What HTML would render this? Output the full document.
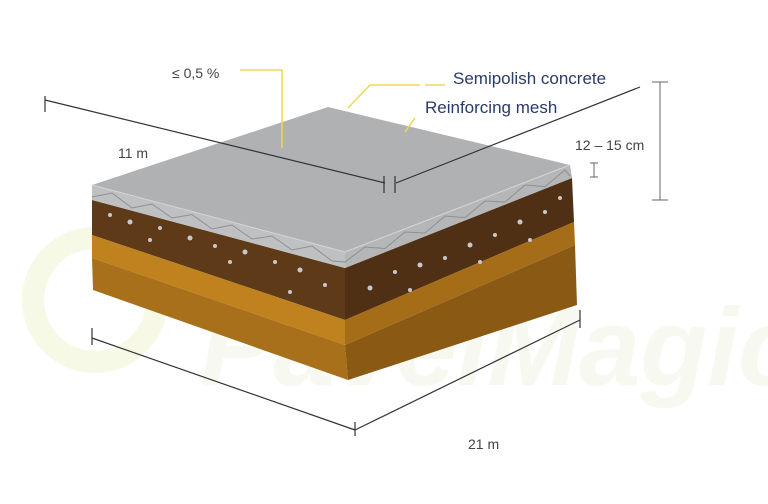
<!DOCTYPE html>
<html><head><style>html,body{margin:0;padding:0;background:#fff}svg{display:block}</style></head><body>
<svg width="768" height="504" viewBox="0 0 768 504" xmlns="http://www.w3.org/2000/svg" font-family="Liberation Sans, sans-serif">
<rect width="768" height="504" fill="#fff"/>
<!-- watermark -->
<g opacity="0.3">
<circle cx="95" cy="300" r="62" fill="none" stroke="#e6ecb0" stroke-width="22"/>
<text x="200" y="385" font-size="110" font-style="italic" font-weight="bold" fill="#e8ecd0">PavelMagic</text>
</g>
<!-- left side face layers -->
<polygon points="92,200 345,268 345,320 92,235" fill="#5e3a18"/>
<polygon points="92,235 345,320 345,345 92,258" fill="#c0821e"/>
<polygon points="92,258 345,345 348,380 93,290" fill="#a8701a"/>
<!-- right side face layers -->
<polygon points="345,268 572,178 574,222 345,320" fill="#4f3014"/>
<polygon points="345,320 574,222 575,245 345,345" fill="#a66d18"/>
<polygon points="345,345 575,245 577,305 348,380" fill="#8a5a14"/>
<!-- dots -->
<g fill="#c8c8cc">
<circle cx="110" cy="215" r="2"/><circle cx="130" cy="222" r="2.5"/><circle cx="160" cy="228" r="2"/><circle cx="190" cy="238" r="2.5"/><circle cx="215" cy="246" r="2"/><circle cx="245" cy="252" r="2.5"/><circle cx="275" cy="262" r="2"/><circle cx="300" cy="270" r="2.5"/><circle cx="325" cy="285" r="2"/><circle cx="150" cy="240" r="2"/><circle cx="230" cy="262" r="2"/><circle cx="290" cy="292" r="2"/>
<circle cx="370" cy="288" r="2.5"/><circle cx="395" cy="272" r="2"/><circle cx="420" cy="265" r="2.5"/><circle cx="445" cy="258" r="2"/><circle cx="470" cy="245" r="2.5"/><circle cx="495" cy="235" r="2"/><circle cx="520" cy="222" r="2.5"/><circle cx="545" cy="212" r="2"/><circle cx="560" cy="198" r="2"/><circle cx="410" cy="290" r="2"/><circle cx="480" cy="262" r="2"/><circle cx="530" cy="240" r="2"/>
</g>
<!-- top face -->
<polygon points="92,185 328,107 570,165 345,252" fill="#b0b1b3"/>
<!-- concrete edge -->
<polygon points="92,185 345,252 345,268 92,200" fill="#bfc0c2"/>
<polygon points="345,252 570,165 572,178 345,268" fill="#b5b6b8"/>
<polyline points="92,197 112,193 132,208 152,204 172,218 192,214.5 212,229 232,225 252,239 272,236 292,250 312,246 332,261 345,262 365,247 385,248.5 405,232 425,233 445,216 465,217.6 485,201 505,202 525,185 545,186.6 565,170 570,176" fill="none" stroke="#8e9094" stroke-width="1"/>
<line x1="92" y1="185" x2="345" y2="252" stroke="#d4d5d6" stroke-width="1"/>
<line x1="345" y1="252" x2="570" y2="165" stroke="#d4d5d6" stroke-width="1"/>
<!-- dimension lines -->
<g stroke="#333" stroke-width="1.2" fill="none">
<line x1="45" y1="100" x2="385" y2="183"/><line x1="45" y1="96" x2="45" y2="112"/>
<line x1="640" y1="87" x2="396" y2="183"/>
<line x1="384" y1="176" x2="384" y2="193"/><line x1="395" y1="176" x2="395" y2="193"/>
<line x1="92" y1="338" x2="355" y2="430"/><line x1="355" y1="430" x2="580" y2="320"/>
<line x1="92" y1="328" x2="92" y2="345"/><line x1="580" y1="310" x2="580" y2="328"/><line x1="355" y1="422" x2="355" y2="436"/>
</g>
<g stroke="#666" stroke-width="1">
<line x1="660" y1="82" x2="660" y2="200"/><line x1="652" y1="82" x2="668" y2="82"/><line x1="652" y1="200" x2="668" y2="200"/>
<line x1="594" y1="163" x2="594" y2="177"/><line x1="590" y1="163" x2="598" y2="163"/><line x1="590" y1="177" x2="598" y2="177"/>
</g>
<!-- yellow leaders -->
<g stroke="#f0d850" stroke-width="1.5" fill="none">
<polyline points="240,70 282,70 282,148"/>
<polyline points="348,108 370,85 420,85"/><line x1="425" y1="85" x2="445" y2="85"/>
<line x1="405" y1="132" x2="415" y2="118"/>
</g>
<text x="172" y="78" font-size="14" fill="#444">≤  0,5 %</text>
<text x="453" y="84" font-size="17" fill="#2a3a6a">Semipolish concrete</text>
<text x="425" y="113" font-size="17" fill="#2a3a6a">Reinforcing mesh</text>
<text x="575" y="150" font-size="14" fill="#444">12 – 15 cm</text>
<text x="118" y="158" font-size="14" fill="#444">11 m</text>
<text x="468" y="449" font-size="14" fill="#444">21 m</text>
</svg>
</body></html>
